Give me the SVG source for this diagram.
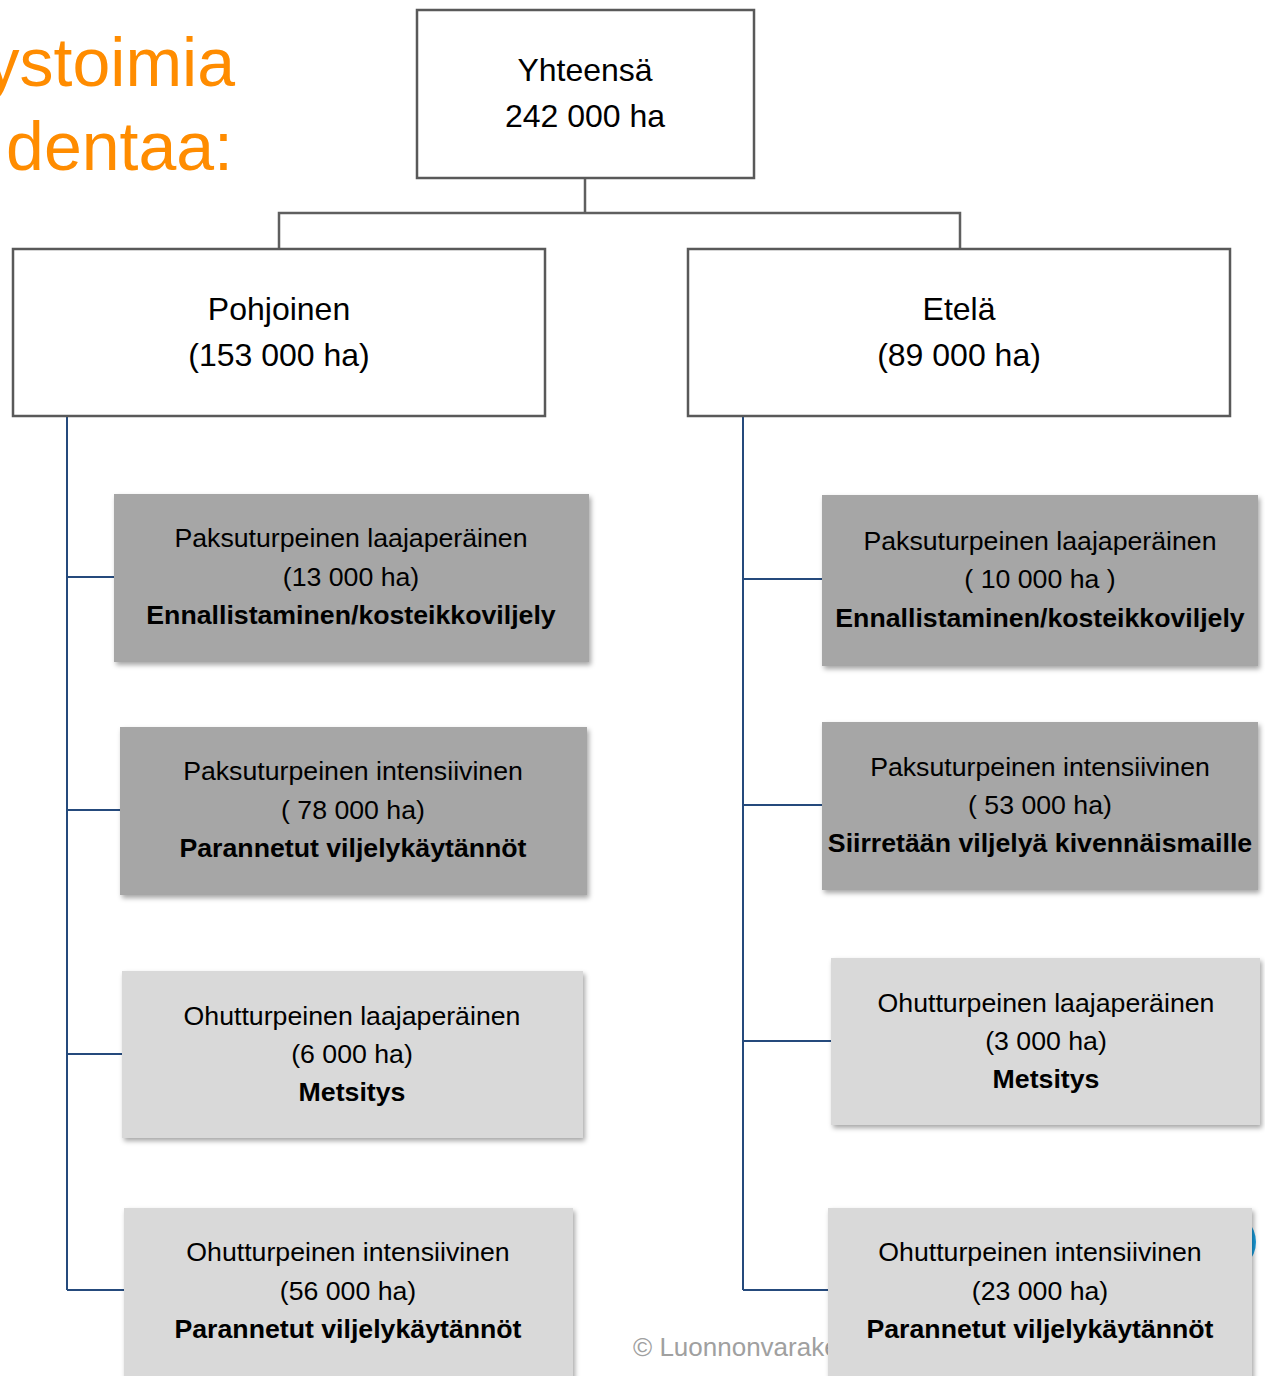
<svg xmlns="http://www.w3.org/2000/svg" width="1265" height="1376" viewBox="0 0 1265 1376">
<defs>
<filter id="sh" x="-5%" y="-5%" width="112%" height="120%">
<feDropShadow dx="2" dy="3" stdDeviation="2.5" flood-color="#000" flood-opacity="0.35"/>
</filter>
<style>
.t{font-family:"Liberation Sans",Arial,sans-serif;fill:#000;text-anchor:middle}
.big{font-size:32px}
.s{font-size:26.7px}
.b{font-weight:bold}
.outline{fill:#fff;stroke:#595959;stroke-width:2.5}
.dark{fill:#a6a6a6;filter:url(#sh)}
.light{fill:#d9d9d9;filter:url(#sh)}
.gc{fill:none;stroke:#5f5f5f;stroke-width:2.5}
.bc{fill:none;stroke:#254a7c;stroke-width:2}
.title{font-family:"Liberation Sans",Arial,sans-serif;font-size:68px;fill:#ff8c00;text-anchor:end}
</style>
</defs>
<rect width="1265" height="1376" fill="#fff"/>
<text class="title" x="235" y="86">ystoimia</text>
<text class="title" x="233" y="170">dentaa:</text>
<circle cx="1225" cy="1242" r="31" fill="#1ba1e2"/>
<text x="633" y="1356" style="font-family:'Liberation Sans',Arial,sans-serif;font-size:26px;fill:#a0a0a0">© Luonnonvarakeskus</text>
<g id="connectors">
<path class="gc" d="M585,178 V213 M279,249 V213 H960 V249"/>
<path class="bc" d="M67,416 V1290 M67,577 H114 M67,810 H120 M67,1054 H122 M67,1290 H124"/>
<path class="bc" d="M743,416 V1290 M743,579 H822 M743,805 H822 M743,1041 H831 M743,1290 H828"/>
</g>
<g id="total">
<rect class="outline" x="417" y="10" width="337" height="168"/>
<text class="t big" x="585" y="81">Yhteensä</text>
<text class="t big" x="585" y="127">242 000 ha</text>
</g>
<g id="north">
<rect class="outline" x="13" y="249" width="532" height="167"/>
<text class="t big" x="279" y="320">Pohjoinen</text>
<text class="t big" x="279" y="366">(153 000 ha)</text>
</g>
<g id="south">
<rect class="outline" x="688" y="249" width="542" height="167"/>
<text class="t big" x="959" y="320">Etelä</text>
<text class="t big" x="959" y="366">(89 000 ha)</text>
</g>
<g id="n1">
<rect class="dark" x="114" y="494" width="475" height="168"/>
<text class="t s" x="351" y="547">Paksuturpeinen laajaperäinen</text>
<text class="t s" x="351" y="586">(13 000 ha)</text>
<text class="t s b" x="351" y="624">Ennallistaminen/kosteikkoviljely</text>
</g>
<g id="n2">
<rect class="dark" x="120" y="727" width="467" height="168"/>
<text class="t s" x="353" y="780">Paksuturpeinen intensiivinen</text>
<text class="t s" x="353" y="819">( 78 000 ha)</text>
<text class="t s b" x="353" y="857">Parannetut viljelykäytännöt</text>
</g>
<g id="n3">
<rect class="light" x="122" y="971" width="461" height="167"/>
<text class="t s" x="352" y="1025">Ohutturpeinen laajaperäinen</text>
<text class="t s" x="352" y="1063">(6 000 ha)</text>
<text class="t s b" x="352" y="1101">Metsitys</text>
</g>
<g id="n4">
<rect class="light" x="124" y="1208" width="449" height="180"/>
<text class="t s" x="348" y="1261">Ohutturpeinen intensiivinen</text>
<text class="t s" x="348" y="1300">(56 000 ha)</text>
<text class="t s b" x="348" y="1338">Parannetut viljelykäytännöt</text>
</g>
<g id="s1">
<rect class="dark" x="822" y="495" width="436" height="171"/>
<text class="t s" x="1040" y="550">Paksuturpeinen laajaperäinen</text>
<text class="t s" x="1040" y="588">( 10 000 ha )</text>
<text class="t s b" x="1040" y="627">Ennallistaminen/kosteikkoviljely</text>
</g>
<g id="s2">
<rect class="dark" x="822" y="722" width="436" height="168"/>
<text class="t s" x="1040" y="776">Paksuturpeinen intensiivinen</text>
<text class="t s" x="1040" y="814">( 53 000 ha)</text>
<text class="t s b" x="1040" y="852">Siirretään viljelyä kivennäismaille</text>
</g>
<g id="s3">
<rect class="light" x="831" y="958" width="429" height="167"/>
<text class="t s" x="1046" y="1012">Ohutturpeinen laajaperäinen</text>
<text class="t s" x="1046" y="1050">(3 000 ha)</text>
<text class="t s b" x="1046" y="1088">Metsitys</text>
</g>
<g id="s4">
<rect class="light" x="828" y="1208" width="424" height="180"/>
<text class="t s" x="1040" y="1261">Ohutturpeinen intensiivinen</text>
<text class="t s" x="1040" y="1300">(23 000 ha)</text>
<text class="t s b" x="1040" y="1338">Parannetut viljelykäytännöt</text>
</g>
</svg>
